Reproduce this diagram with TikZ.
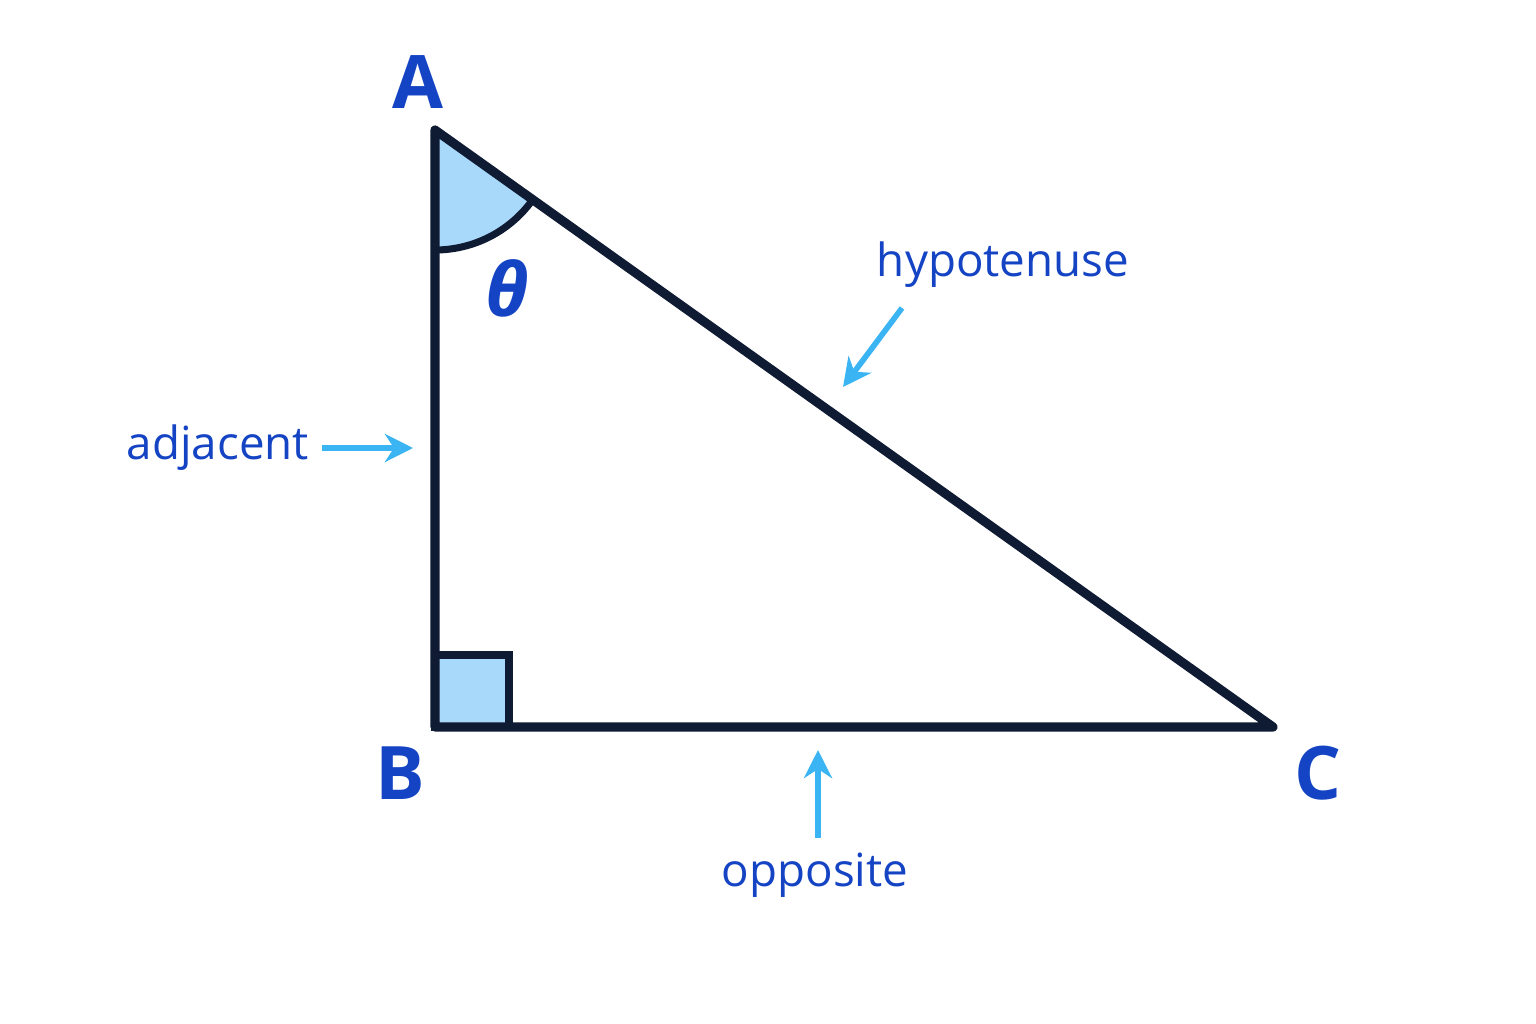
\documentclass[tikz,border=0pt]{standalone}
\usepackage{fontspec}
\setmainfont{Open Sans}
\usetikzlibrary{arrows.meta}
\definecolor{navy}{HTML}{0F1A33}
\definecolor{labelblue}{HTML}{1444C4}
\definecolor{arrowblue}{HTML}{3AB4F2}
\definecolor{wedgefill}{HTML}{A8D8FA}
\tikzset{
  side/.style={line width=2.6pt, navy, line join=round},
  vertex/.style={text=labelblue, font=\fontsize{21}{24}\selectfont\bfseries},
  tag/.style={text=labelblue, font=\fontsize{13}{16}\selectfont},
  pointer/.style={arrowblue, line width=1.6pt, -{Stealth[length=8pt,width=8pt]}}
}
\begin{document}
\begin{tikzpicture}[x=0.01cm, y=-0.01cm]
\useasboundingbox (0,0) rectangle (1536,1024);
% corners
    \coordinate (a) at (435,130);
    \coordinate (b) at (435,727);
    \coordinate (c) at (1273,727);
% marks
    \fill[wedgefill] (a) -- (435,250) arc[start angle=90, end angle=35.5, radius=120] -- cycle;
    \draw[navy, line width=2pt] (435,250) arc[start angle=90, end angle=35.5, radius=120];
    \draw[navy, line width=2pt, fill=wedgefill] (435,655) rectangle (509,727);
% sides
    \draw[side] (a) -- (b) -- (c) -- cycle;
% labels
    \node[vertex] (la) at (418,82) {A};
    \node[vertex] (lb) at (400,773) {B};
    \node[vertex] (lc) at (1318,773) {C};
    \node[text=labelblue, font=\fontsize{21}{22}\selectfont\itshape\bfseries] (th) at (507,288) {θ};
    \node[tag] (hyp) at (1003,265) {hypotenuse};
    \node[tag] (adj) at (218,448) {adjacent};
    \node[tag] (opp) at (815,875) {opposite};
% pointers
    \coordinate (hs) at (902,308);
    \coordinate (he) at (843,387);
    \coordinate (as) at (322,448);
    \coordinate (ae) at (413,448);
    \coordinate (os) at (818,838);
    \coordinate (oe) at (818,750);
    \draw[pointer] (hs) -- (he);
    \draw[pointer] (as) -- (ae);
    \draw[pointer] (os) -- (oe);
\end{tikzpicture}
\end{document}
